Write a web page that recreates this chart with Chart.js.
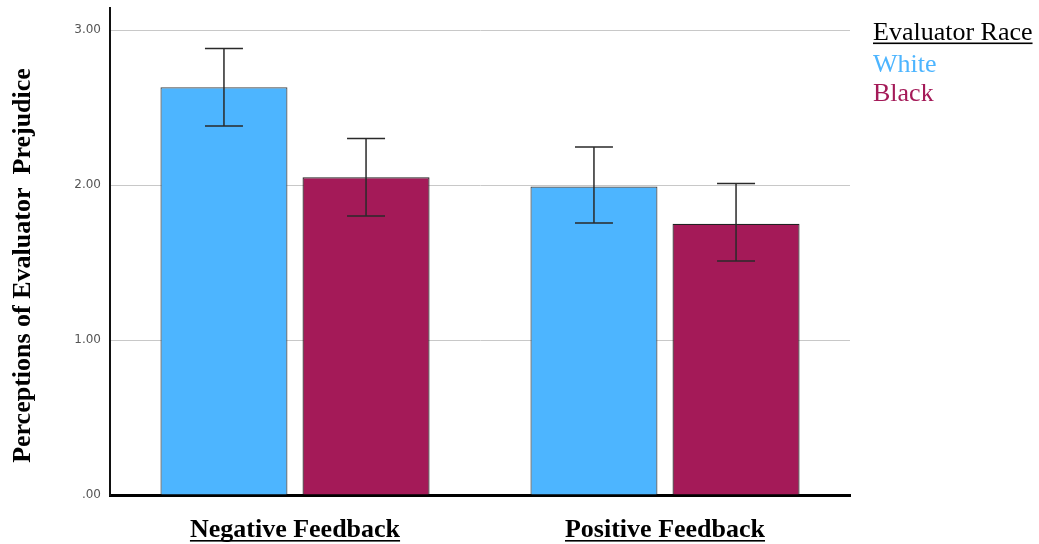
<!DOCTYPE html>
<html>
<head>
<meta charset="utf-8">
<style>
  html, body { margin: 0; padding: 0; background: #fff; }
  #wrap { width: 1039px; height: 544px; position: relative; }
</style>
<script src="https://cdn.jsdelivr.net/npm/chart.js@4/dist/chart.umd.min.js"></script>
</head>
<body>
<div id="wrap"><canvas id="c" width="1039" height="544"></canvas></div>
<script>
const categories = ['Negative Feedback', 'Positive Feedback'];
const seriesNames = ['White', 'Black'];
const whiteMeans = [2.63, 1.99];
const blackMeans = [2.05, 1.75];
const whiteLower = [2.38, 1.755];
const whiteUpper = [2.88, 2.245];
const blackLower = [1.80, 1.51];
const blackUpper = [2.30, 2.01];
const yTickValues = [0, 1, 2, 3];
const yTickLabels = ['.00', '1.00', '2.00', '3.00'];
const legendTitle = 'Evaluator Race';
const yTitle = 'Perceptions of Evaluator  Prejudice';

const WHITE_COLOR = '#4db5ff';
const BLACK_COLOR = '#a41a58';
const SERIF = '"Liberation Serif", "Times New Roman", serif';

const errLow = [whiteLower, blackLower];
const errHigh = [whiteUpper, blackUpper];

const errorBars = {
  id: 'errorBars',
  afterDatasetsDraw(chart) {
    const ctx = chart.ctx;
    const y = chart.scales.y;
    ctx.save();
    ctx.strokeStyle = '#2a2a2a';
    ctx.lineWidth = 1.5;
    chart.data.datasets.forEach((ds, di) => {
      const meta = chart.getDatasetMeta(di);
      meta.data.forEach((bar, i) => {
        const x = bar.x;
        const yl = y.getPixelForValue(errLow[di][i]);
        const yh = y.getPixelForValue(errHigh[di][i]);
        const hw = 19;
        ctx.beginPath();
        ctx.moveTo(x, yl); ctx.lineTo(x, yh);
        ctx.moveTo(x - hw, yl); ctx.lineTo(x + hw, yl);
        ctx.moveTo(x - hw, yh); ctx.lineTo(x + hw, yh);
        ctx.stroke();
      });
    });
    ctx.restore();
  }
};

const customLegend = {
  id: 'customLegend',
  afterDraw(chart) {
    const ctx = chart.ctx;
    ctx.save();
    ctx.font = '26px ' + SERIF;
    ctx.textBaseline = 'alphabetic';
    ctx.textAlign = 'left';
    const x0 = 873;
    ctx.fillStyle = '#000';
    ctx.fillText(legendTitle, x0, 40);
    const w = ctx.measureText(legendTitle).width;
    ctx.fillRect(x0, 42.5, w, 1.6);
    chart.data.datasets.forEach((ds, i) => {
      ctx.fillStyle = ds.backgroundColor;
      ctx.fillText(ds.label, x0, 72 + i * 28.5);
    });
    ctx.restore();
  }
};

const axisTitleAndUnderline = {
  id: 'axisTitleAndUnderline',
  afterDraw(chart) {
    const ctx = chart.ctx;
    const xs = chart.scales.x;
    const ys = chart.scales.y;
    ctx.save();
    ctx.font = 'bold 26px ' + SERIF;
    ctx.fillStyle = '#000';
    xs.ticks.forEach((t, i) => {
      const label = categories[i];
      const w = ctx.measureText(label).width;
      const cx = xs.getPixelForTick(i);
      ctx.fillRect(cx - w / 2, 540, w, 1.6);
    });
    // y-axis title, centred slightly below the axis middle as in the reference
    ctx.translate(23, (ys.top + ys.bottom) / 2 + 14);
    ctx.rotate(-Math.PI / 2);
    ctx.textAlign = 'center';
    ctx.textBaseline = 'middle';
    ctx.fillText(yTitle, 0, 0);
    ctx.restore();
  }
};

new Chart(document.getElementById('c'), {
  type: 'bar',
  data: {
    labels: categories,
    datasets: [
      { label: seriesNames[0], data: whiteMeans, backgroundColor: WHITE_COLOR, borderColor: '#444', borderWidth: 1.2 },
      { label: seriesNames[1], data: blackMeans, backgroundColor: BLACK_COLOR, borderColor: '#222', borderWidth: 1.2 }
    ]
  },
  options: {
    responsive: false,
    animation: false,
    events: [],
    layout: { padding: { left: 0, right: 189, top: 8, bottom: 0 } },
    datasets: { bar: { categoryPercentage: 0.768, barPercentage: 0.894 } },
    plugins: {
      legend: { display: false },
      tooltip: { enabled: false }
    },
    scales: {
      x: {
        grid: { display: false, drawTicks: false },
        border: { display: true, color: '#000', width: 3 },
        ticks: {
          color: '#000',
          padding: 20,
          font: { family: SERIF, size: 26, weight: 'bold' },
          maxRotation: 0
        },
        afterFit(scale) { scale.height = 49; scale.paddingLeft = 0; scale.paddingRight = 0; }
      },
      y: {
        min: 0,
        max: 3.142,
        afterBuildTicks(scale) {
          scale.ticks = yTickValues.map(v => ({ value: v }));
        },
        grid: { color: '#c8c8c8', lineWidth: 1, drawTicks: false },
        border: { display: true, color: '#111', width: 2 },
        ticks: {
          color: '#555',
          padding: 9,
          font: { family: '"DejaVu Sans", Verdana, sans-serif', size: 12 },
          callback(value) {
            const i = yTickValues.indexOf(value);
            return i >= 0 ? yTickLabels[i] : '';
          }
        },
        title: { display: false },
        afterFit(scale) { scale.width = 110; scale.paddingTop = 0; scale.paddingBottom = 0; }
      }
    }
  },
  plugins: [errorBars, customLegend, axisTitleAndUnderline]
});
</script>
</body>
</html>
